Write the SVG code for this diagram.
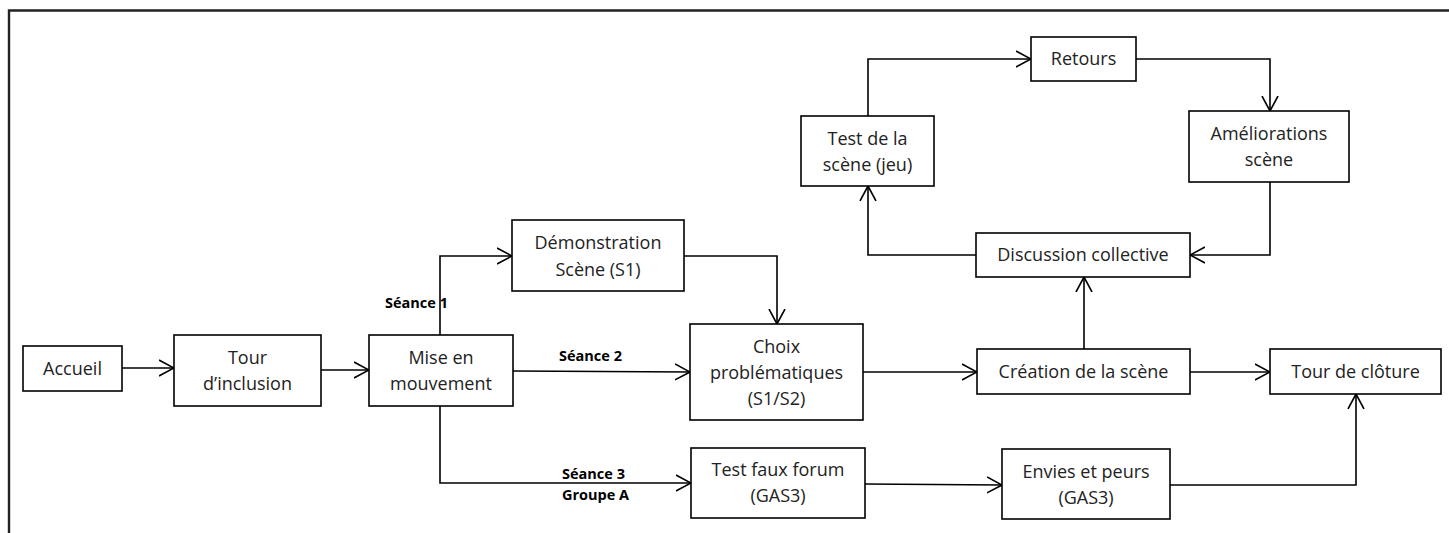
<svg xmlns="http://www.w3.org/2000/svg" width="1449" height="533" viewBox="0 0 1449 533">
<defs>
<marker id="arr" viewBox="0 0 16 18" refX="15" refY="9" markerWidth="16" markerHeight="18" markerUnits="userSpaceOnUse" orient="auto">
<path d="M0,1 L15,9 L0,17" fill="none" stroke="#000" stroke-width="1.6"/>
</marker>
<style>
.box{fill:#fff;stroke:#000;stroke-width:1.6}
.t{font-family:"Open Sans","Noto Sans",sans-serif;font-size:18px;fill:#222;text-anchor:middle}
.l{font-family:"Open Sans","Noto Sans",sans-serif;font-size:14.5px;font-weight:bold;fill:#000}
.c{fill:none;stroke:#000;stroke-width:1.6;marker-end:url(#arr)}
</style>
</defs>
<rect width="1449" height="533" fill="#fff"/>
<path d="M9,533 V10.5 H1449" fill="none" stroke="#222" stroke-width="2.4"/>
<g id="connectors">
<line class="c" x1="122" y1="368" x2="174" y2="368"/>
<line class="c" x1="321" y1="370" x2="369" y2="370"/>
<polyline class="c" points="440,335 440,256 512,256"/>
<line class="c" x1="513" y1="371" x2="690" y2="372"/>
<polyline class="c" points="684,256 777,256 777,324"/>
<polyline class="c" points="440,406 440,483 691,483"/>
<line class="c" x1="863" y1="372" x2="977" y2="372"/>
<line class="c" x1="1084" y1="349" x2="1084" y2="277"/>
<polyline class="c" points="976,255 868,255 868,186"/>
<polyline class="c" points="868,116 868,59 1031,59"/>
<polyline class="c" points="1136,59 1270,59 1270,111"/>
<polyline class="c" points="1270,182 1270,255 1190,255"/>
<line class="c" x1="1190" y1="372" x2="1270" y2="372"/>
<line class="c" x1="865" y1="484" x2="1002" y2="485"/>
<polyline class="c" points="1170,485 1356,485 1356,394"/>
<text class="l" x="385" y="308">Séance 1</text>
<text class="l" x="559" y="361">Séance 2</text>
<text class="l" x="562" y="479">Séance 3</text>
<text class="l" x="562" y="500">Groupe A</text>
</g>
<g id="accueil"><rect class="box" x="23" y="346" width="99" height="45"/><text class="t" x="72.5" y="375">Accueil</text></g>
<g id="tour-inclusion"><rect class="box" x="174" y="335" width="147" height="71"/><text class="t" x="247.5" y="364">Tour</text><text class="t" x="247.5" y="390">d’inclusion</text></g>
<g id="mise"><rect class="box" x="369" y="335" width="144" height="71"/><text class="t" x="441" y="364">Mise en</text><text class="t" x="441" y="390">mouvement</text></g>
<g id="demo"><rect class="box" x="512" y="220" width="172" height="71"/><text class="t" x="598" y="249">Démonstration</text><text class="t" x="598" y="276">Scène (S1)</text></g>
<g id="choix"><rect class="box" x="690" y="324" width="173" height="96"/><text class="t" x="776.5" y="353">Choix</text><text class="t" x="776.5" y="379">problématiques</text><text class="t" x="776.5" y="405">(S1/S2)</text></g>
<g id="test-faux"><rect class="box" x="691" y="448" width="174" height="70"/><text class="t" x="778" y="476">Test faux forum</text><text class="t" x="778" y="502">(GAS3)</text></g>
<g id="envies"><rect class="box" x="1002" y="449" width="168" height="70"/><text class="t" x="1086" y="478">Envies et peurs</text><text class="t" x="1086" y="504">(GAS3)</text></g>
<g id="creation"><rect class="box" x="977" y="349" width="213" height="45"/><text class="t" x="1083.5" y="378">Création de la scène</text></g>
<g id="cloture"><rect class="box" x="1270" y="349" width="171" height="45"/><text class="t" x="1355.5" y="378">Tour de clôture</text></g>
<g id="discussion"><rect class="box" x="976" y="233" width="214" height="44"/><text class="t" x="1083" y="261">Discussion collective</text></g>
<g id="test-scene"><rect class="box" x="801" y="116" width="133" height="70"/><text class="t" x="867.5" y="145">Test de la</text><text class="t" x="867.5" y="171">scène (jeu)</text></g>
<g id="retours"><rect class="box" x="1031" y="37" width="105" height="44"/><text class="t" x="1083.5" y="65">Retours</text></g>
<g id="ameliorations"><rect class="box" x="1189" y="111" width="160" height="71"/><text class="t" x="1269" y="140">Améliorations</text><text class="t" x="1269" y="166">scène</text></g>
</svg>
